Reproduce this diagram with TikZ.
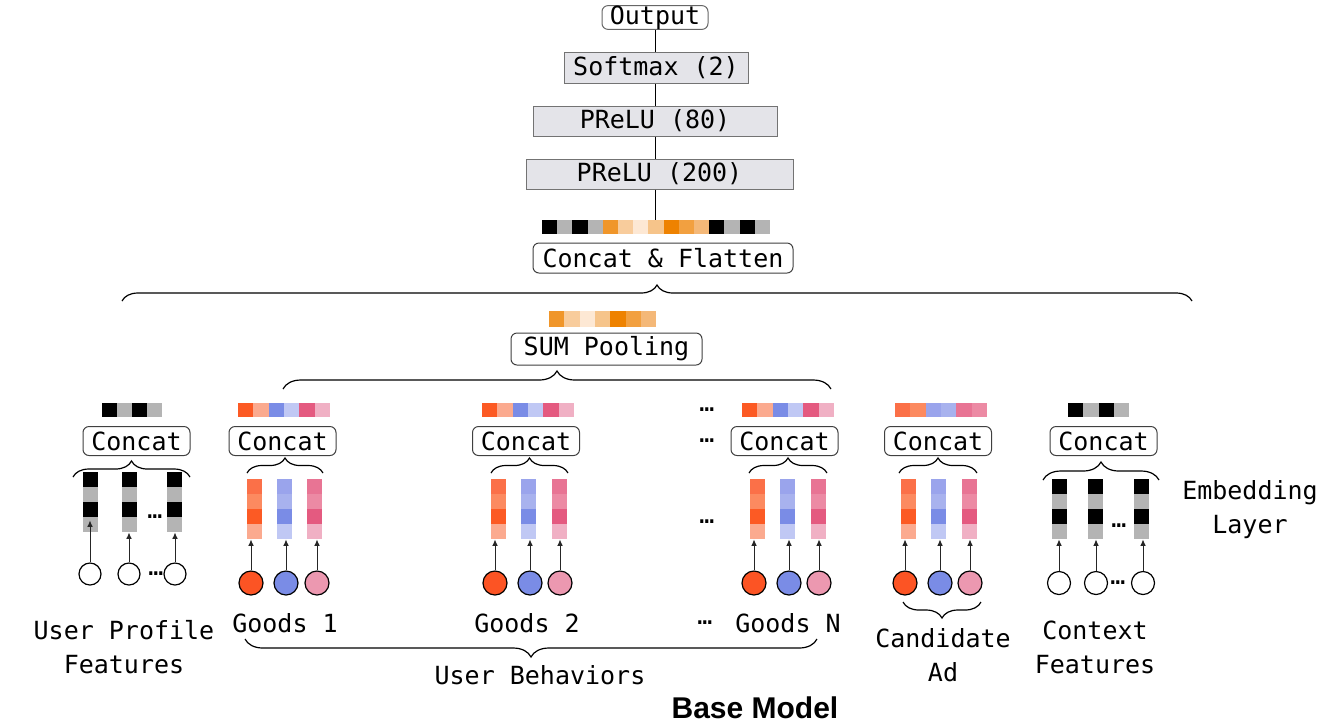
\documentclass[tikz,border=0pt]{standalone}
\usepackage{fontspec}
\setmonofont{DejaVu Sans Mono}
\newfontfamily\hfont{Liberation Sans}
\usetikzlibrary{decorations.pathreplacing,arrows.meta,calc}
\definecolor{boxgray}{HTML}{E4E4E9}
\definecolor{blk}{HTML}{000000}
\definecolor{gry}{HTML}{B4B4B4}
\definecolor{or1}{HTML}{F0962A}
\definecolor{or2}{HTML}{F8CC9C}
\definecolor{or3}{HTML}{FDE8D4}
\definecolor{or4}{HTML}{F6C48A}
\definecolor{or5}{HTML}{EE8200}
\definecolor{or6}{HTML}{F2A040}
\definecolor{or7}{HTML}{F4B878}
\definecolor{rA}{HTML}{FC5A24}
\definecolor{rB}{HTML}{FBAA8F}
\definecolor{rC}{HTML}{FB7048}
\definecolor{rD}{HTML}{FC8A60}
\definecolor{bA}{HTML}{7A8CE6}
\definecolor{bB}{HTML}{C0C8F4}
\definecolor{bC}{HTML}{9AA4EC}
\definecolor{bD}{HTML}{A8B2EE}
\definecolor{pA}{HTML}{E45A80}
\definecolor{pB}{HTML}{F0B0C4}
\definecolor{pC}{HTML}{E87494}
\definecolor{pD}{HTML}{EC8AA4}
\definecolor{cr}{HTML}{FC5424}
\definecolor{cb}{HTML}{7A8CE6}
\definecolor{cp}{HTML}{EC98B0}
\newcommand\cellbar[5]{\foreach \cc [count=\ii from 0] in {#4} \fill[\cc] ({#1+\ii*#3},{#2}) rectangle ({#1+(\ii+1)*#3},{#2+#5});}
\begin{document}
\begin{tikzpicture}[x=0.5pt,y=-0.5pt,
  font=\ttfamily\fontsize{12.5}{17}\selectfont,
  rbox/.style={draw=black!75, rounded corners=3pt, line width=0.5pt, inner sep=0pt, minimum height=14.5pt},
  gbox/.style={draw=black!55, fill=boxgray, line width=0.5pt, inner sep=0pt, minimum height=15pt},
  circ/.style={circle, draw=black, line width=0.6pt, inner sep=0pt, minimum size=12pt},
  wcirc/.style={circle, draw=black, line width=0.6pt, inner sep=0pt, minimum size=11.5pt, fill=white},
  arr/.style={-{Latex[length=3.2pt,width=2.8pt]}, line width=0.5pt, draw=black!85},
  br/.style={decorate, decoration={brace, amplitude=#1}, line width=0.6pt},
  lbl/.style={align=center, inner sep=0pt},
  dots/.style={inner sep=0pt},
  col/.style n args={4}{inner sep=0pt, minimum width=7.5pt, minimum height=30pt, path picture={
    \fill[#1] (path picture bounding box.north west) rectangle ([yshift=-7.5pt]path picture bounding box.north east);
    \fill[#2] ([yshift=-7.5pt]path picture bounding box.north west) rectangle ([yshift=-15pt]path picture bounding box.north east);
    \fill[#3] ([yshift=-15pt]path picture bounding box.north west) rectangle ([yshift=-22.5pt]path picture bounding box.north east);
    \fill[#4] ([yshift=-22.5pt]path picture bounding box.north west) rectangle (path picture bounding box.south east);}}
]
\path[use as bounding box, fill=white] (0,0) rectangle (1327,725);

% top stack
\node[rbox, minimum width=53pt, minimum height=11.5pt, draw=black!60] (out) at (655,17.5) {Output};
\node[gbox, minimum width=92pt, minimum height=15.5pt] (soft) at (656,67.5) {Softmax (2)};
\node[gbox, minimum width=122pt] (p80) at (655,121) {PReLU (80)};
\node[gbox, minimum width=133.5pt] (p200) at (659.5,174) {PReLU (200)};
\cellbar{542}{220}{15.2}{blk,gry,blk,gry,or1,or2,or3,or4,or5,or6,or7,blk,gry,blk,gry}{14}
\node[inner sep=0pt, minimum width=114pt, minimum height=7pt] (fbar) at (656,227) {};
\draw[line width=0.5pt] (out.south) -- (out.south |- soft.north)
  (out.south |- soft.south) -- (out.south |- p80.north)
  (out.south |- p80.south) -- (out.south |- p200.north)
  (out.south |- p200.south) -- (out.south |- fbar.north);
\node[rbox, minimum width=130pt, minimum height=15pt] (flat) at (663,258) {Concat \& Flatten};
\draw[br=8pt] (122,301) -- (1192,301);

% sum pooling
\cellbar{549}{311}{15.3}{or1,or2,or3,or4,or5,or6,or7}{16}
\node[rbox, minimum width=95.5pt, minimum height=16pt] (sum) at (606.5,349) {SUM Pooling};
\draw[br=9pt] (283,389) -- (831,389);

% small bars
\cellbar{102}{403}{15}{blk,gry,blk,gry}{14}
\cellbar{238}{403}{15.3}{rA,rB,bA,bB,pA,pB}{14}
\cellbar{482}{403}{15.3}{rA,rB,bA,bB,pA,pB}{14}
\cellbar{742}{403}{15.3}{rA,rB,bA,bB,pA,pB}{14}
\cellbar{895}{403}{15.3}{rC,rD,bC,bD,pC,pD}{14}
\cellbar{1068}{403}{15.25}{blk,gry,blk,gry}{14}

% concat boxes
\node[rbox, minimum width=53.5pt] (cc1) at (136.5,441) {Concat};
\node[rbox, minimum width=53.5pt] (cc2) at (282.5,441) {Concat};
\node[rbox, minimum width=53.5pt] (cc3) at (526,441) {Concat};
\node[rbox, minimum width=53.5pt] (cc4) at (784.5,441) {Concat};
\node[rbox, minimum width=53.5pt] (cc5) at (938,441) {Concat};
\node[rbox, minimum width=53.5pt] (cc6) at (1103.5,441) {Concat};

% braces under concat
\draw[br=8pt] (73,477) -- (190,477);
\draw[br=7.5pt] (247,473) -- (323,473);
\draw[br=7.5pt] (491,473) -- (568,473);
\draw[br=7.5pt] (749,473) -- (827,473);
\draw[br=7.5pt] (899,473) -- (977,473);
\draw[br=9pt] (1043,480) -- (1159,480);

% columns
\node[col={blk}{gry}{blk}{gry}] (u1) at (90.5,502) {};
\node[col={blk}{gry}{blk}{gry}] (u2) at (129.5,502) {};
\node[col={blk}{gry}{blk}{gry}] (u3) at (174.5,502) {};
\node[col={rC}{rD}{rA}{rB}] (a1) at (254.5,509) {};
\node[col={bC}{bD}{bA}{bB}] (a2) at (284.5,509) {};
\node[col={pC}{pD}{pA}{pB}] (a3) at (314.5,509) {};
\node[col={rC}{rD}{rA}{rB}] (b1) at (498.5,509) {};
\node[col={bC}{bD}{bA}{bB}] (b2) at (528.5,509) {};
\node[col={pC}{pD}{pA}{pB}] (b3) at (559.5,509) {};
\node[col={rC}{rD}{rA}{rB}] (n1) at (757.5,509) {};
\node[col={bC}{bD}{bA}{bB}] (n2) at (787.5,509) {};
\node[col={pC}{pD}{pA}{pB}] (n3) at (818.5,509) {};
\node[col={rC}{rD}{rA}{rB}] (d1) at (908.5,509) {};
\node[col={bC}{bD}{bA}{bB}] (d2) at (938.5,509) {};
\node[col={pC}{pD}{pA}{pB}] (d3) at (969.5,509) {};
\node[col={blk}{gry}{blk}{gry}] (x1) at (1059.5,509) {};
\node[col={blk}{gry}{blk}{gry}] (x2) at (1095.5,509) {};
\node[col={blk}{gry}{blk}{gry}] (x3) at (1141.5,509) {};

% circles
\node[wcirc, minimum size=11pt] (cu1) at (90,574) {};
\node[wcirc, minimum size=11pt] (cu2) at (129,574) {};
\node[wcirc, minimum size=11pt] (cu3) at (175,574) {};
\node[circ, fill=cr] (ca1) at (251,583) {};
\node[circ, fill=cb] (ca2) at (286,583) {};
\node[circ, fill=cp] (ca3) at (317,583) {};
\node[circ, fill=cr] (cb1) at (495,583) {};
\node[circ, fill=cb] (cb2) at (530,583) {};
\node[circ, fill=cp] (cb3) at (560,583) {};
\node[circ, fill=cr] (cn1) at (754,583) {};
\node[circ, fill=cb] (cn2) at (789,583) {};
\node[circ, fill=cp] (cn3) at (819,583) {};
\node[circ, fill=cr] (cd1) at (905,583) {};
\node[circ, fill=cb] (cd2) at (940,583) {};
\node[circ, fill=cp] (cd3) at (970,583) {};
\node[wcirc] (cx1) at (1059,583) {};
\node[wcirc] (cx2) at (1096,583) {};
\node[wcirc] (cx3) at (1143,583) {};

% arrows
\draw[arr] (cu1.north) -- ($(cu1.north |- u1.south)+(0,-12)$);
\foreach \c/\k in {cu2/u2,cu3/u3,ca1/a1,ca2/a2,ca3/a3,cb1/b1,cb2/b2,cb3/b3,cn1/n1,cn2/n2,cn3/n3,cd1/d1,cd2/d2,cd3/d3,cx1/x1,cx2/x2,cx3/x3}
  \draw[arr] (\c.north) -- (\c.north |- \k.south);

% dots
\node[dots] (e1) at (155,517) {…};
\node[dots] (e2) at (156,574) {…};
\node[dots] (e3) at (707,410) {…};
\node[dots] (e4) at (707,441) {…};
\node[dots] (e5) at (707,522) {…};
\node[dots] (e6) at (1119,526) {…};
\node[dots] (e7) at (1118,583) {…};

% labels
\node[lbl] (emb) at (1250,510) {Embedding\\Layer};
\node[lbl] (lup) at (124,647) {User Profile\\Features};
\node[lbl] (lg1) at (285,623) {Goods 1};
\node[lbl] (lg2) at (527,623) {Goods 2};
\node[lbl] (lgn) at (788,623) {Goods N};
\node[dots] (e8) at (705,623) {…};
\draw[br=8pt] (981,602) -- (903,602);
\node[lbl] (lca) at (943,655) {Candidate\\Ad};
\node[lbl] (lcx) at (1095,647) {Context\\Features};
\draw[br=9pt] (817,639) -- (245,639);
\node[lbl] (lub) at (540,675) {User Behaviors};
\node[lbl, font=\hfont\bfseries\fontsize{15}{18}\selectfont] (base) at (755,708) {Base Model};
\end{tikzpicture}
\end{document}
